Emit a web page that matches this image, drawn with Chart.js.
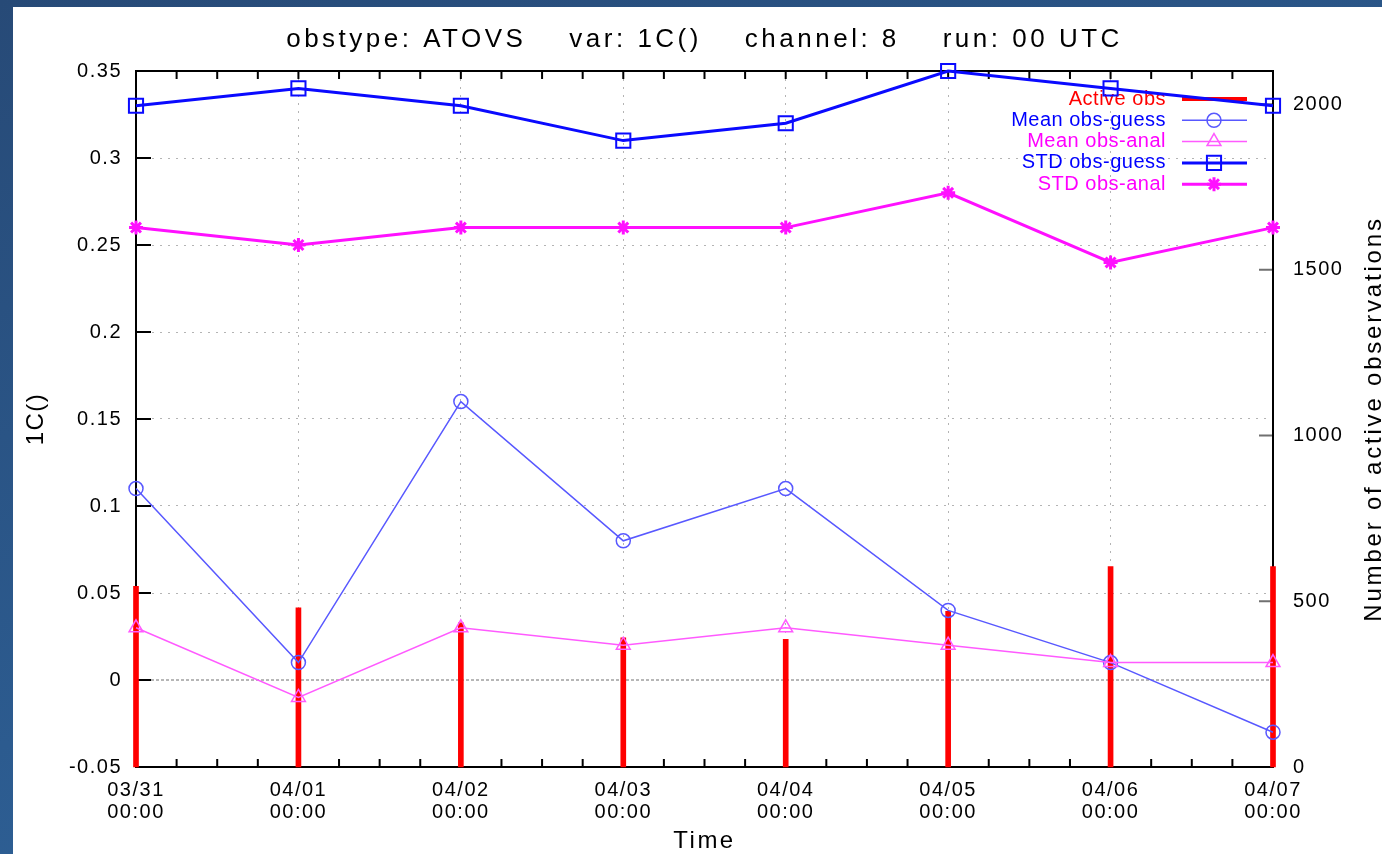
<!DOCTYPE html>
<html>
<head>
<meta charset="utf-8">
<script src="https://cdn.jsdelivr.net/npm/chart.js@4.4.1/dist/chart.umd.min.js"></script>
<style>
    html, body { margin: 0; height: 100%; }
    body {
        overflow: hidden;
        background: linear-gradient(160deg, #274a77 0%, #2c5b8f 55%, #3168a0 100%);
    }
    #panel {
        position: absolute;
        left: 13px;
        top: 7px;
        width: 1369px;
        height: 847px;
        background: #fff;
    }
</style>
</head>
<body>
<div id="panel"><canvas id="obs-stats"></canvas></div>
<script>
var dates = ["03/31", "04/01", "04/02", "04/03", "04/04", "04/05", "04/06", "04/07"];
var hours = ["00:00", "00:00", "00:00", "00:00", "00:00", "00:00", "00:00", "00:00"];
var activeObs = [545, 480, 435, 390, 385, 470, 605, 605];
var meanObsGuess = [0.11, 0.01, 0.16, 0.08, 0.11, 0.04, 0.01, -0.03];
var meanObsAnal = [0.03, -0.01, 0.03, 0.02, 0.03, 0.02, 0.01, 0.01];
var stdObsGuess = [0.33, 0.34, 0.33, 0.31, 0.32, 0.35, 0.34, 0.33];
var stdObsAnal = [0.26, 0.25, 0.26, 0.26, 0.26, 0.28, 0.24, 0.26];
var valueTicks = [-0.05, 0, 0.05, 0.1, 0.15, 0.2, 0.25, 0.3, 0.35];
var countTicks = [0, 500, 1000, 1500, 2000];

var chartTitle = "obstype: ATOVS    var: 1C()    channel: 8    run: 00 UTC";
var fontFamily = "'Liberation Sans', Arial, sans-serif";

function labelText(font, spacing, text, x, y, angle, align) {
    return { font: font, spacing: spacing, text: text, x: x, y: y, angle: angle, align: align };
}

// gnuplot style frame, inward ticks, zero line and key
var gnuplotLook = {
    id: "gnuplotLook",
    beforeUpdate: function (chart) {
        chart.ctx.letterSpacing = "1.5px";
    },
    beforeDraw: function (chart) {
        chart.ctx.letterSpacing = "1.5px";
    },
    beforeDatasetsDraw: function (chart) {
        var ctx = chart.ctx;
        var a = chart.chartArea;
        var x = chart.scales.x;
        var y = chart.scales.y;
        var y2 = chart.scales.y2;
        ctx.save();

        // zero line
        var zy = y.getPixelForValue(0);
        ctx.strokeStyle = "#6f6f6f";
        ctx.lineWidth = 1;
        ctx.setLineDash([3, 2]);
        ctx.beginPath();
        ctx.moveTo(a.left, zy);
        ctx.lineTo(a.right, zy);
        ctx.stroke();
        ctx.setLineDash([]);

        ctx.strokeStyle = "#000";
        ctx.lineWidth = 2;
        ctx.beginPath();
        for (var i = 0; i < dates.length - 1; i++) {
            var p0 = x.getPixelForValue(i);
            var p1 = x.getPixelForValue(i + 1);
            for (var j = 0; j < 4; j++) {
                var px = p0 + (p1 - p0) * j / 4;
                ctx.moveTo(px, a.bottom);
                ctx.lineTo(px, a.bottom - 8);
                ctx.moveTo(px, a.top);
                ctx.lineTo(px, a.top + 8);
            }
        }
        valueTicks.forEach(function (v) {
            var py = y.getPixelForValue(v);
            ctx.moveTo(a.left, py);
            ctx.lineTo(a.left + 15, py);
        });
        ctx.stroke();

        ctx.strokeStyle = "#707070";
        ctx.beginPath();
        countTicks.forEach(function (v) {
            var py = y2.getPixelForValue(v);
            ctx.moveTo(a.right, py);
            ctx.lineTo(a.right - 14, py);
        });
        ctx.stroke();

        ctx.strokeStyle = "#000";
        ctx.strokeRect(a.left, a.top, a.right - a.left, a.bottom - a.top);

        // key, text first then sample
        ctx.font = "20px " + fontFamily;
        ctx.letterSpacing = "0.5px";
        ctx.textAlign = "right";
        ctx.textBaseline = "middle";
        chart.data.datasets.forEach(function (ds, k) {
            var ky = 92 + k * 21.3;
            ctx.fillStyle = ds.keyColor;
            ctx.fillText(ds.label, 1153, ky);
            var lineColor = ds.type === "bar" ? ds.backgroundColor : ds.borderColor;
            ctx.strokeStyle = lineColor;
            ctx.lineWidth = ds.type === "bar" ? 4 : ds.borderWidth;
            ctx.beginPath();
            ctx.moveTo(1169, ky);
            ctx.lineTo(1234, ky);
            ctx.stroke();
            if (ds.pointStyle) {
                ctx.fillStyle = "rgba(0,0,0,0)";
                ctx.lineWidth = ds.pointBorderWidth;
                Chart.helpers.drawPoint(ctx, {
                    pointStyle: ds.pointStyle,
                    radius: ds.pointRadius,
                    rotation: 0,
                    borderWidth: ds.pointBorderWidth
                }, 1201, ky);
            }
        });
        ctx.restore();
        ctx.letterSpacing = "1.5px";
    },
    afterDraw: function (chart) {
        var ctx = chart.ctx;
        var a = chart.chartArea;
        var cx = (a.left + a.right) / 2;
        var cy = (a.top + a.bottom) / 2;
        var texts = [
            labelText("26px " + fontFamily, "3.5px", chartTitle, cx, 40, 0, "center"),
            labelText("24px " + fontFamily, "2.5px", "Time", cx, 841, 0, "center"),
            labelText("24px " + fontFamily, "1.5px", "1C()", 30, cy, -Math.PI / 2, "center"),
            labelText("24px " + fontFamily, "2.8px", "Number of active observations", 1368, cy, -Math.PI / 2, "center")
        ];
        texts.forEach(function (t) {
            ctx.save();
            ctx.font = t.font;
            ctx.letterSpacing = t.spacing;
            ctx.fillStyle = "#000";
            ctx.textAlign = t.align;
            ctx.textBaseline = "alphabetic";
            ctx.translate(t.x, t.y);
            ctx.rotate(t.angle);
            ctx.fillText(t.text, 0, 0);
            ctx.restore();
        });
    }
};

var canvas = document.getElementById("obs-stats");
var myChart = new Chart(canvas.getContext("2d"), {
    type: "bar",
    data: {
        labels: dates.map(function (d, i) { return [d, hours[i]]; }),
        datasets: [
            {
                type: "bar",
                label: "Active obs",
                data: activeObs,
                yAxisID: "y2",
                backgroundColor: "#ff0000",
                barThickness: 5,
                order: 9,
                clip: false,
                keyColor: "#ff0000"
            },
            {
                type: "line",
                label: "Mean obs-guess",
                data: meanObsGuess,
                yAxisID: "y",
                borderColor: "rgb(88,88,255)",
                borderWidth: 1.5,
                pointStyle: "circle",
                pointRadius: 7,
                pointBorderWidth: 1.5,
                pointBackgroundColor: "rgba(0,0,0,0)",
                order: 4,
                clip: false,
                keyColor: "#0000ff"
            },
            {
                type: "line",
                label: "Mean obs-anal",
                data: meanObsAnal,
                yAxisID: "y",
                borderColor: "rgb(255,90,255)",
                borderWidth: 1.5,
                pointStyle: "triangle",
                pointRadius: 8,
                pointBorderWidth: 1.5,
                pointBackgroundColor: "rgba(0,0,0,0)",
                order: 3,
                clip: false,
                keyColor: "#ff00ff"
            },
            {
                type: "line",
                label: "STD obs-guess",
                data: stdObsGuess,
                yAxisID: "y",
                borderColor: "#0a0aff",
                borderWidth: 3,
                pointStyle: "rect",
                pointRadius: 10,
                pointBorderWidth: 2,
                pointBackgroundColor: "rgba(0,0,0,0)",
                order: 2,
                clip: false,
                keyColor: "#0000ff"
            },
            {
                type: "line",
                label: "STD obs-anal",
                data: stdObsAnal,
                yAxisID: "y",
                borderColor: "#ff10ff",
                borderWidth: 3,
                pointStyle: "star",
                pointRadius: 7,
                pointBorderWidth: 3,
                pointBackgroundColor: "rgba(0,0,0,0)",
                order: 1,
                clip: false,
                keyColor: "#ff00ff"
            }
        ]
    },
    options: {
        responsive: true,
        maintainAspectRatio: false,
        animation: false,
        layout: { padding: { top: 64, left: 0, right: 0, bottom: 0 } },
        plugins: {
            legend: { display: false },
            tooltip: { enabled: false }
        },
        scales: {
            x: {
                offset: false,
                grid: { offset: false, color: "#b4b4b4", lineWidth: 1, drawTicks: false },
                border: { display: false, dash: [2, 6] },
                ticks: {
                    color: "#000",
                    font: { family: fontFamily, size: 20, lineHeight: 1.1 },
                    padding: 12,
                    maxRotation: 0,
                    autoSkip: false
                },
                afterFit: function (scale) { scale.height = 87; }
            },
            y: {
                position: "left",
                min: -0.05,
                max: 0.35,
                afterBuildTicks: function (scale) {
                    scale.ticks = valueTicks.map(function (v) { return { value: v }; });
                },
                grid: {
                    color: function (c) {
                        return c.tick && c.tick.value === 0 ? "rgba(0,0,0,0)" : "#b4b4b4";
                    },
                    lineWidth: 1,
                    drawTicks: false
                },
                border: { display: false, dash: [2, 6] },
                ticks: {
                    color: "#000",
                    font: { family: fontFamily, size: 20 },
                    padding: 14,
                    callback: function (v) { return String(Math.round(v * 100) / 100); }
                },
                afterFit: function (scale) { scale.width = 123; }
            },
            y2: {
                position: "right",
                min: 0,
                max: 2100,
                afterBuildTicks: function (scale) {
                    scale.ticks = countTicks.map(function (v) { return { value: v }; });
                },
                grid: { display: false, drawTicks: false },
                border: { display: false },
                ticks: {
                    color: "#000",
                    font: { family: fontFamily, size: 20 },
                    padding: 20,
                    callback: function (v) { return String(v); }
                },
                afterFit: function (scale) { scale.width = 109; }
            }
        }
    },
    plugins: [gnuplotLook]
});
</script>
</body>
</html>
